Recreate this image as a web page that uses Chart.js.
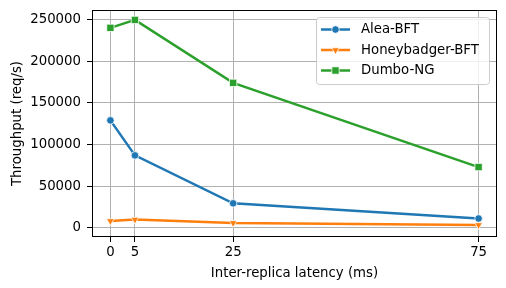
<!DOCTYPE html>
<html>
<head>
<meta charset="utf-8">
<script src="https://cdn.jsdelivr.net/npm/chart.js@4"></script>
<style>
  html, body { margin: 0; padding: 0; background: #fff; }
</style>
</head>
<body>
<canvas id="chart" width="506" height="288"></canvas>
<script>
// data
const latency = [0, 5, 25, 75];
const alea = [129000, 87000, 29500, 11300];
const honeybadger = [8400, 10000, 6000, 3600];
const dumbo = [240000, 249500, 174000, 73000];
const seriesNames = ["Alea-BFT", "Honeybadger-BFT", "Dumbo-NG"];
const xTicks = [0, 5, 25, 75];
const yTicks = [0, 50000, 100000, 150000, 200000, 250000];

const FONT = "'DejaVu Sans', sans-serif";
Chart.defaults.font.family = FONT;
Chart.defaults.font.size = 13.3;
Chart.defaults.color = "#000";

function pts(ys) {
    return latency.map((x, i) => ({ x: x, y: ys[i] }));
}

// frame + matplotlib style legend
const framePlugin = {
    id: "frame",
    afterDatasetsDraw(chart) {
        const a = chart.chartArea;
        const ctx = chart.ctx;
        ctx.save();
        ctx.strokeStyle = "#000";
        ctx.lineWidth = 1;
        ctx.strokeRect(Math.round(a.left) + 0.5, Math.round(a.top) + 0.5,
            Math.round(a.right - a.left) - 1, Math.round(a.bottom - a.top) - 1);

        // legend box
        const bx = a.right - 181, by = a.top + 7, bw = 173, bh = 67;
        ctx.fillStyle = "rgba(255,255,255,0.8)";
        ctx.strokeStyle = "#cccccc";
        ctx.beginPath();
        ctx.roundRect(bx + 0.5, by + 0.5, bw, bh, 3);
        ctx.fill();
        ctx.stroke();

        ctx.font = "13.3px " + FONT;
        ctx.textBaseline = "middle";
        chart.data.datasets.forEach((ds, i) => {
            const y = by + 12.5 + i * 20.5;
            ctx.strokeStyle = ds.borderColor;
            ctx.lineWidth = ds.borderWidth;
            ctx.beginPath();
            ctx.moveTo(bx + 5, y);
            ctx.lineTo(bx + 34, y);
            ctx.stroke();
            ctx.fillStyle = ds.borderColor;
            ctx.strokeStyle = "#fff";
            ctx.lineWidth = 0.8;
            Chart.helpers.drawPoint(ctx, {
                pointStyle: ds.pointStyle,
                rotation: ds.pointRotation || 0,
                radius: ds.pointRadius,
                borderWidth: 0.8
            }, bx + 19.5, y);
            ctx.fillStyle = "#000";
            ctx.fillText(ds.label, bx + 45, y + 0.5);
        });
        ctx.restore();
    }
};

const colors = ["#1f77b4", "#ff7f0e", "#2ca02c"];
const styles = [
    { pointStyle: "circle", pointRadius: 3.8, pointRotation: 0 },
    { pointStyle: "triangle", pointRadius: 4.5, pointRotation: 180 },
    { pointStyle: "rect", pointRadius: 5.2, pointRotation: 0 }
];
const series = [alea, honeybadger, dumbo];

const datasets = series.map((ys, i) => ({
    label: seriesNames[i],
    data: pts(ys),
    borderColor: colors[i],
    backgroundColor: colors[i],
    borderWidth: 2.5,
    pointStyle: styles[i].pointStyle,
    pointRadius: styles[i].pointRadius,
    pointRotation: styles[i].pointRotation,
    pointBackgroundColor: colors[i],
    pointBorderColor: "#fff",
    pointBorderWidth: 0.8,
    tension: 0,
    order: 3 - i
}));

new Chart(document.getElementById("chart"), {
    type: "line",
    data: { datasets },
    options: {
        responsive: false,
        animation: false,
        devicePixelRatio: 1,
        layout: { padding: { top: 10, right: 9, left: 0, bottom: 0 } },
        plugins: {
            legend: { display: false },
            tooltip: { enabled: false }
        },
        scales: {
            x: {
                type: "linear",
                min: -3.75,
                max: 78.75,
                afterBuildTicks: s => { s.ticks = xTicks.map(v => ({ value: v })); },
                afterFit: s => { s.height = 51; s.paddingLeft = 0; s.paddingRight = 0; },
                grid: { color: "#b0b0b0", lineWidth: 1, tickLength: 5, tickColor: "#000" },
                border: { display: false },
                ticks: { autoSkip: false, maxRotation: 0, padding: 3 },
                title: { display: true, text: "Inter-replica latency (ms)", padding: { top: 2, bottom: 6 } }
            },
            y: {
                type: "linear",
                min: -10900,
                max: 261400,
                afterBuildTicks: s => { s.ticks = yTicks.map(v => ({ value: v })); },
                afterFit: s => { s.width = 92; s.paddingTop = 0; s.paddingBottom = 0; },
                grid: { color: "#b0b0b0", lineWidth: 1, tickLength: 5, tickColor: "#000" },
                border: { display: false },
                ticks: { padding: 6, callback: v => String(v) },
                title: { display: true, text: "Throughput (req/s)", padding: { top: 10, bottom: 4 } }
            }
        }
    },
    plugins: [framePlugin]
});
</script>
</body>
</html>
